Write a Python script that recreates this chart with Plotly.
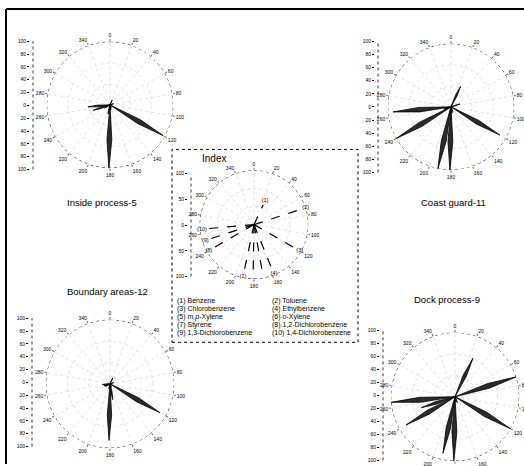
import numpy as np
import plotly.graph_objects as go

W, H = 524, 466

# ---------------- data ----------------
compound_labels = ["(1)", "(2)", "(3)", "(4)", "(5)", "(6)", "(7)", "(8)", "(9)", "(10)"]
compound_names = ["Benzene", "Toluene", "Chlorobenzene", "Ethylbenzene",
                  "<i>m,p</i>-Xylene", "<i>o</i>-Xylene", "Styrene",
                  "1,2-Dichlorobenzene", "1,3-Dichlorobenzene", "1,4-Dichlorobenzene"]
compound_angles = [25, 72, 120, 158, 170, 181, 192, 240, 252, 265]

index_values = [40, 92, 89, 90, 95, 100, 90, 88, 86, 88]
inside_process_5 = [8, 6, 97, 5, 8, 100, 15, 10, 28, 35]
coast_guard_11 = [36, 15, 89, 8, 10, 100, 100, 100, 12, 92]
boundary_areas_12 = [10, 6, 90, 6, 25, 88, 8, 8, 10, 12]
dock_process_9 = [66, 100, 100, 10, 8, 100, 90, 88, 55, 100]

angle_ticks = list(range(0, 360, 20))
angle_labels = [str(a) for a in angle_ticks]
radial_ticks = list(range(-100, 101, 20))
radial_labels = [str(abs(v)) for v in radial_ticks]
index_radial_ticks = [-100, -50, 0, 50, 100]
index_radial_labels = [str(abs(v)) for v in index_radial_ticks]

# ---------------- layout geometry (pixels) ----------------
charts = [
    ("Inside process-5", inside_process_5, 110, 103, 64, 33, 38, 169, 102, 202),
    ("Coast guard-11", coast_guard_11, 451, 105, 64, 378, 38, 172, 453, 202),
    ("Boundary areas-12", boundary_areas_12, 110, 385, 65, 32, 318, 449, 107, 292),
    ("Dock process-9", dock_process_9, 455, 398, 65, 383, 330, 463, 447, 300),
]
index_geom = (254, 224, 55, 191, 172, 277)


def kite_path(angles, values, w=4, k=0.55):
    th, rr = [], []
    for a, v in zip(angles, values):
        th += [a, a - w, a, a + w, a]
        rr += [0, k * v, v, k * v, 0]
    return th, rr


def px_dom_x(a, b):
    return [max(0, a / W), min(1, b / W)]


def px_dom_y(top, bot):
    return [max(0, 1 - bot / H), min(1, 1 - top / H)]


fig = go.Figure()
layout = dict(width=W, height=H, margin=dict(l=0, r=0, t=0, b=0),
              paper_bgcolor="white", plot_bgcolor="white", showlegend=False,
              font=dict(family="Liberation Sans, Arial, sans-serif", color="black"))

circle_theta = np.arange(0, 361, 3)
circle_r = np.full(circle_theta.shape, 100.0)


def polar_layout(cx, cy, R):
    return dict(
        domain=dict(x=px_dom_x(cx - R, cx + R), y=px_dom_y(cy - R, cy + R)),
        bgcolor="white",
        angularaxis=dict(direction="clockwise", rotation=90, tickmode="array",
                         tickvals=angle_ticks, ticktext=angle_labels,
                         tickfont=dict(size=5, color="black"), showline=False,
                         gridcolor="#cccccc", griddash="dot", gridwidth=0.6,
                         ticks="outside", ticklen=2, tickcolor="#666"),
        radialaxis=dict(range=[0, 100], showticklabels=False, ticks="",
                        tickvals=[33, 66], showline=False,
                        gridcolor="#cccccc", griddash="dot", gridwidth=0.6),
    )


annotations = []
shapes = []

for i, (title, vals, cx, cy, R, axx, axt, axb, tx, ty) in enumerate(charts, start=1):
    pname = "polar" if i == 1 else f"polar{i}"
    layout[pname] = polar_layout(cx, cy, R)
    fig.add_trace(go.Scatterpolar(r=circle_r, theta=circle_theta, mode="lines",
                                  line=dict(color="black", width=0.9, dash="dot"),
                                  subplot=pname, hoverinfo="skip"))
    th, rr = kite_path(compound_angles, vals)
    fig.add_trace(go.Scatterpolar(r=rr, theta=th, mode="lines", fill="toself",
                                  fillcolor="#2b2b2b", line=dict(color="black", width=0.8),
                                  subplot=pname))
    xa = "xaxis" if i == 1 else f"xaxis{i}"
    ya = "yaxis" if i == 1 else f"yaxis{i}"
    xr = "x" if i == 1 else f"x{i}"
    yr = "y" if i == 1 else f"y{i}"
    layout[xa] = dict(domain=px_dom_x(axx - 3, axx + 3), range=[-1, 1], visible=False, anchor=yr)
    layout[ya] = dict(domain=px_dom_y(axt, axb), range=[-101, 101], anchor=xr,
                      tickmode="array", tickvals=radial_ticks, ticktext=radial_labels,
                      ticks="outside", ticklen=2, tickcolor="black",
                      tickfont=dict(size=5, color="black"), showgrid=False,
                      zeroline=False, showline=False)
    fig.add_trace(go.Scatter(x=[0, 0], y=[-100, 100], mode="lines", xaxis=xr, yaxis=yr,
                             line=dict(color="black", width=0.8, dash="dot"), hoverinfo="skip"))
    annotations.append(dict(text=title, x=tx / W, y=1 - ty / H, xref="paper", yref="paper",
                            showarrow=False, xanchor="center", yanchor="middle",
                            font=dict(size=9.5, color="black")))

# ---------------- index chart ----------------
icx, icy, iR, iax, iat, iab = index_geom
layout["polar5"] = polar_layout(icx, icy, iR)
fig.add_trace(go.Scatterpolar(r=circle_r, theta=circle_theta, mode="lines",
                              line=dict(color="black", width=0.9, dash="dot"),
                              subplot="polar5", hoverinfo="skip"))
for a, v in zip(compound_angles, index_values):
    fig.add_trace(go.Scatterpolar(r=[0, v], theta=[a, a], mode="lines",
                                  line=dict(color="black", width=1.2, dash="dash"),
                                  subplot="polar5"))
fig.add_trace(go.Scatterpolar(r=[min(v + 8, 106) for v in index_values], theta=compound_angles,
                              mode="text", text=compound_labels,
                              textfont=dict(size=5.5, color="black"), subplot="polar5"))
layout["xaxis5"] = dict(domain=px_dom_x(iax - 3, iax + 3), range=[-1, 1], visible=False, anchor="y5")
layout["yaxis5"] = dict(domain=px_dom_y(iat, iab), range=[-101, 101], anchor="x5",
                        tickmode="array", tickvals=index_radial_ticks, ticktext=index_radial_labels,
                        ticks="outside", ticklen=2, tickcolor="black",
                        tickfont=dict(size=5, color="black"), showgrid=False,
                        zeroline=False, showline=False)
fig.add_trace(go.Scatter(x=[0, 0], y=[-100, 100], mode="lines", xaxis="x5", yaxis="y5",
                         line=dict(color="black", width=0.8, dash="dot"), hoverinfo="skip"))

annotations.append(dict(text="Index", x=200 / W, y=1 - 157 / H, xref="paper", yref="paper",
                        showarrow=False, xanchor="left", yanchor="middle",
                        font=dict(size=10, color="black")))

row_y = [301, 309, 317, 325, 334]
col_x = [175, 270]
for k, (lab, name) in enumerate(zip(compound_labels, compound_names)):
    r, c = divmod(k, 2)
    annotations.append(dict(text=f"{lab} {name}", x=col_x[c] / W, y=1 - row_y[r] / H,
                            xref="paper", yref="paper", showarrow=False,
                            xanchor="left", yanchor="middle",
                            font=dict(size=7, color="black")))

shapes.append(dict(type="rect", xref="paper", yref="paper",
                   x0=172 / W, x1=358 / W, y0=1 - 343 / H, y1=1 - 148 / H,
                   line=dict(color="black", width=1, dash="dot")))
shapes.append(dict(type="line", xref="paper", yref="paper",
                   x0=6 / W, x1=1, y0=1 - 6 / H, y1=1 - 6 / H,
                   line=dict(color="black", width=2)))
shapes.append(dict(type="line", xref="paper", yref="paper",
                   x0=6 / W, x1=6 / W, y0=0, y1=1 - 6 / H,
                   line=dict(color="black", width=2)))

layout["annotations"] = annotations
layout["shapes"] = shapes
fig.update_layout(**layout)
fig.write_html("out.html",
               config={"displayModeBar": False, "staticPlot": True},
               post_script="document.body.style.margin='0';document.body.style.overflow='hidden';")
